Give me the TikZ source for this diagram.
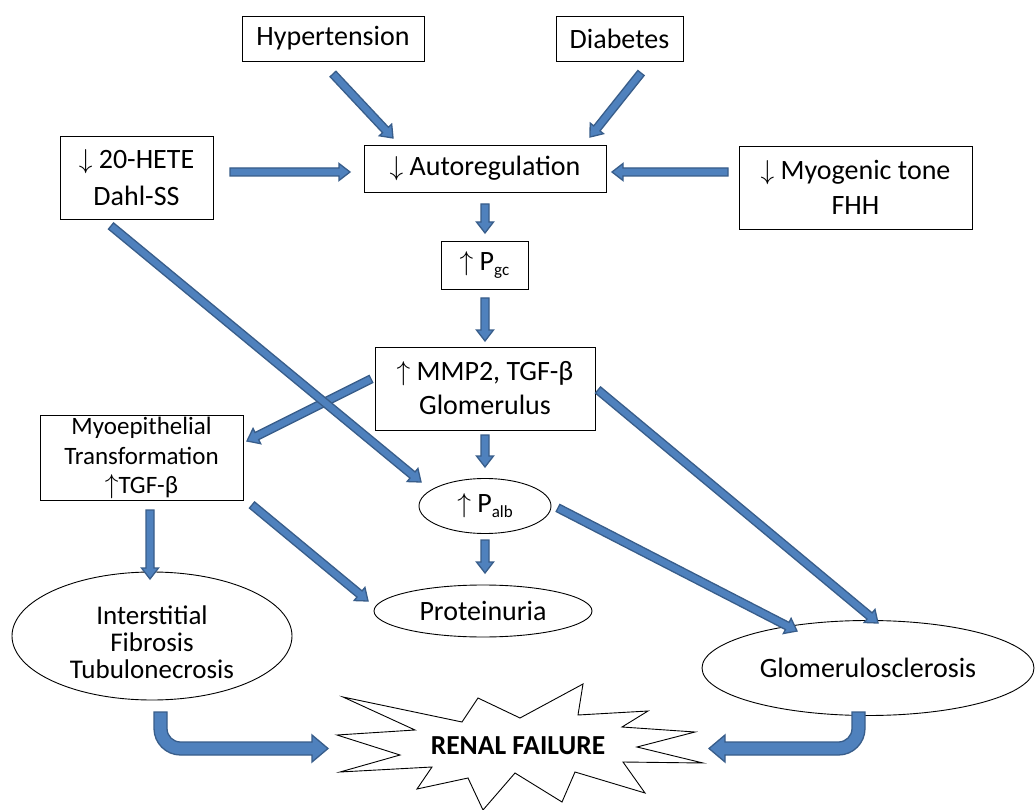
\documentclass[tikz,border=0pt]{standalone}
\usepackage{fontspec}
\setmainfont{Carlito}
\usetikzlibrary{calc,shapes.geometric}
\definecolor{afill}{HTML}{4F81BD}
\definecolor{aline}{HTML}{385D8A}
\newcommand\blk[2]{\filldraw[barrow] ($(#1)!4pt!-90:(#2)$) -- ($(#2)!11pt!(#1)!4pt!90:(#1)$) -- ($(#2)!11pt!(#1)!8.5pt!90:(#1)$) -- (#2) -- ($(#2)!11pt!(#1)!8.5pt!-90:(#1)$) -- ($(#2)!11pt!(#1)!4pt!-90:(#1)$) -- ($(#1)!4pt!90:(#2)$) -- cycle;}
\newcommand\dn{\scalebox{1.1}{$\downarrow$}}
\newcommand\up{\scalebox{1.1}{$\uparrow$}}
\newcommand\sbs[1]{\raisebox{-5pt}{\fontsize{17}{17}\selectfont #1}}
\begin{document}
\begin{tikzpicture}[x=1pt,y=-1pt,
  barrow/.style={fill=afill,draw=aline,line width=1.3pt,line join=miter},
  box/.style={draw=black,line width=0.9pt,inner sep=0pt,align=center,font=\fontsize{28}{34}\selectfont},
  ell/.style={ellipse,draw=black,line width=0.9pt,inner sep=0pt,align=center,font=\fontsize{28}{34}\selectfont},
  lbl/.style={inner sep=0pt,align=center}]
\useasboundingbox (0,0) rectangle (1036,810);
\fill[white] (0,0) rectangle (1036,810);
% nodes
\node[box,minimum width=182pt,minimum height=45pt] (hyp) at (333,38.5) {Hypertension};
\node[box,minimum width=127pt,minimum height=45pt] (dia) at (619.5,38.5) {Diabetes};
\node[box,minimum width=242pt,minimum height=47pt] (auto) at (485,168.5) {\dn{} Autoregulation};
\node[box,minimum width=153pt,minimum height=83pt,font=\fontsize{28}{37}\selectfont] (hete) at (136.5,177.5) {\dn{} 20-HETE\\Dahl-SS};
\node[box,minimum width=233pt,minimum height=83pt,font=\fontsize{28}{35}\selectfont] (myo) at (855.5,187.5) {\dn{} Myogenic tone\\FHH};
\node[box,minimum width=87pt,minimum height=48pt] (pgc) at (484.5,265) {\up{} P\sbs{gc}};
\node[box,minimum width=220pt,minimum height=83pt,font=\fontsize{28}{34}\selectfont] (mmp) at (485,388.5) {\up{} MMP2, TGF-β\\Glomerulus};
\node[box,minimum width=203pt,minimum height=85pt] (mep) at (141.5,457.5) {};
\node[lbl,font=\fontsize{25}{29.5}\selectfont] (mept) at (141.5,458) {Myoepithelial\\Transformation\\\up{}TGF-β};
\node[ell,minimum width=132pt,minimum height=55pt] (palb) at (485,506) {\up{} P\sbs{alb}};
\node[ell,minimum width=218pt,minimum height=52pt] (prot) at (483,611) {Proteinuria};
\node[ell,minimum width=280pt,minimum height=128pt] (intf) at (152,636) {};
\node[lbl,font=\fontsize{27}{27}\selectfont] (intft) at (152,642) {Interstitial\\Fibrosis\\Tubulonecrosis};
\node[ell,minimum width=332pt,minimum height=95pt] (glom) at (868,668) {Glomerulosclerosis};
% star
\draw[black,line width=0.9pt,fill=white,line join=miter] (343,697) -- (462,722) -- (478,698) -- (520,718) -- (583,684) -- (578,715) -- (648,711) -- (622,727) -- (695,732) -- (637,747) -- (703,763) -- (623,762) -- (645,793) -- (575,772) -- (562,802) -- (515,773) -- (483,810) -- (468,778) -- (417,789) -- (432,767) -- (340,772) -- (400,755) -- (337,735) -- (415,730) -- cycle;
\node[lbl,font=\bfseries\fontsize{27.5}{30}\selectfont] (rf) at (518,746) {RENAL FAILURE};
% arrow endpoints
\coordinate (a1s) at (333,74);   \coordinate (a1e) at (393,138);
\coordinate (a2s) at (641,73);   \coordinate (a2e) at (590,137);
\coordinate (a3s) at (230,172);  \coordinate (a3e) at (350,172);
\coordinate (a4s) at (728,172);  \coordinate (a4e) at (612,172);
\coordinate (a5s) at (485,204);  \coordinate (a5e) at (485,233);
\coordinate (a6s) at (485,298);  \coordinate (a6e) at (485,341);
\coordinate (a7s) at (371,379);  \coordinate (a7e) at (247,441);
\coordinate (a8s) at (111,226);  \coordinate (a8e) at (421,482);
\coordinate (a9s) at (485,435);  \coordinate (a9e) at (485,467);
\coordinate (a10s) at (598,390); \coordinate (a10e) at (878,623);
\coordinate (a11s) at (558,508); \coordinate (a11e) at (797,631);
\coordinate (a12s) at (150,510); \coordinate (a12e) at (150,579);
\coordinate (a13s) at (252,505); \coordinate (a13e) at (368,601);
\coordinate (a14s) at (485,540); \coordinate (a14e) at (485,573);
\blk{a1s}{a1e}
\blk{a2s}{a2e}
\blk{a3s}{a3e}
\blk{a4s}{a4e}
\blk{a5s}{a5e}
\blk{a6s}{a6e}
\blk{a7s}{a7e}
\blk{a8s}{a8e}
\blk{a9s}{a9e}
\blk{a10s}{a10e}
\blk{a11s}{a11e}
\blk{a12s}{a12e}
\blk{a13s}{a13e}
\blk{a14s}{a14e}
% bent arrows
\filldraw[barrow] (154,712) -- (154,728.5) .. controls (154,743.1) and (165.9,755) .. (180.5,755) -- (312,755) -- (312,762) -- (328,748.5) -- (312,735) -- (312,742) -- (180.5,742) .. controls (173,742) and (167,736) .. (167,728.5) -- (167,712) -- cycle;
\filldraw[barrow] (865,712) -- (865,728.5) .. controls (865,743.1) and (853.1,755) .. (838.5,755) -- (725,755) -- (725,762) -- (709,748.5) -- (725,735) -- (725,742) -- (838.5,742) .. controls (845.9,742) and (852,736) .. (852,728.5) -- (852,712) -- cycle;
\end{tikzpicture}
\end{document}
